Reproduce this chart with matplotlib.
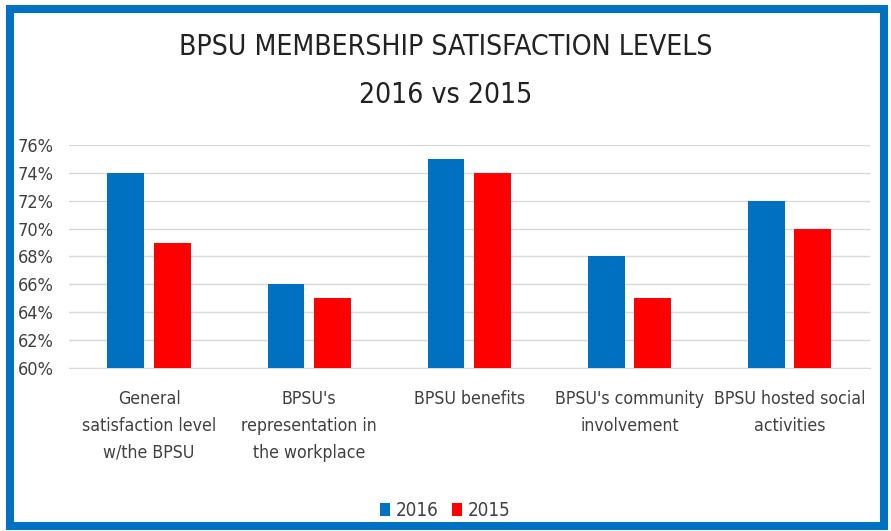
import numpy as np
import matplotlib.pyplot as plt
from matplotlib.patches import Rectangle
from matplotlib.ticker import PercentFormatter

plt.rcParams['font.family'] = ['DejaVu Sans']
plt.rcParams['font.stretch'] = 'condensed'

categories = [
    "General\nsatisfaction level\nw/the BPSU",
    "BPSU's\nrepresentation in\nthe workplace",
    "BPSU benefits",
    "BPSU's community\ninvolvement",
    "BPSU hosted social\nactivities",
]
vals_2016 = [74, 66, 75, 68, 72]
vals_2015 = [69, 65, 74, 65, 70]

BLUE = "#0070C0"
RED = "#FF0000"

fig = plt.figure(figsize=(8.91, 5.31), dpi=100)
ax = fig.add_axes([0.0774, 0.307, 0.8986, 0.420])

x = np.arange(len(categories))
w = 0.23
gap = 0.06
ax.bar(x - (w + gap) / 2, vals_2016, w, color=BLUE, label="2016", zorder=3)
ax.bar(x + (w + gap) / 2, vals_2015, w, color=RED, label="2015", zorder=3)

ax.set_xlim(-0.5, len(categories) - 0.5)
ax.set_ylim(60, 76)
ax.set_yticks(range(60, 77, 2))
ax.yaxis.set_major_formatter(PercentFormatter(decimals=0))
ax.grid(axis="y", color="#d9d9d9", linewidth=1, zorder=0)
for s in ["top", "right", "left"]:
    ax.spines[s].set_visible(False)
ax.spines["bottom"].set_color("#d9d9d9")
ax.tick_params(axis="y", length=0, labelsize=13, labelcolor="#404040", pad=11)
ax.tick_params(axis="x", length=0, pad=16)
ax.set_xticks(x)
ax.set_xticklabels(categories, fontsize=12.7, color="#404040", va="top",
                   linespacing=1.62)

fig.text(0.5, 0.9115, "BPSU MEMBERSHIP SATISFACTION LEVELS", ha="center",
         va="center", fontsize=20.3, color="#222222")
fig.text(0.5, 0.821, "2016 vs 2015", ha="center", va="center",
         fontsize=20.3, color="#222222")

ax.legend(loc="center", bbox_to_anchor=(0.5, 0.039), bbox_transform=fig.transFigure,
          ncol=2, frameon=False, fontsize=13.5, handlelength=0.53,
          handleheight=0.7, handletextpad=0.32, columnspacing=0.7,
          labelcolor="#404040")

fig.patches.append(Rectangle((10 / 891, 5 / 531), 874 / 891, 517 / 531,
                             transform=fig.transFigure, fill=False,
                             edgecolor=BLUE, linewidth=5.8))

fig.savefig("out.png", dpi=100)
